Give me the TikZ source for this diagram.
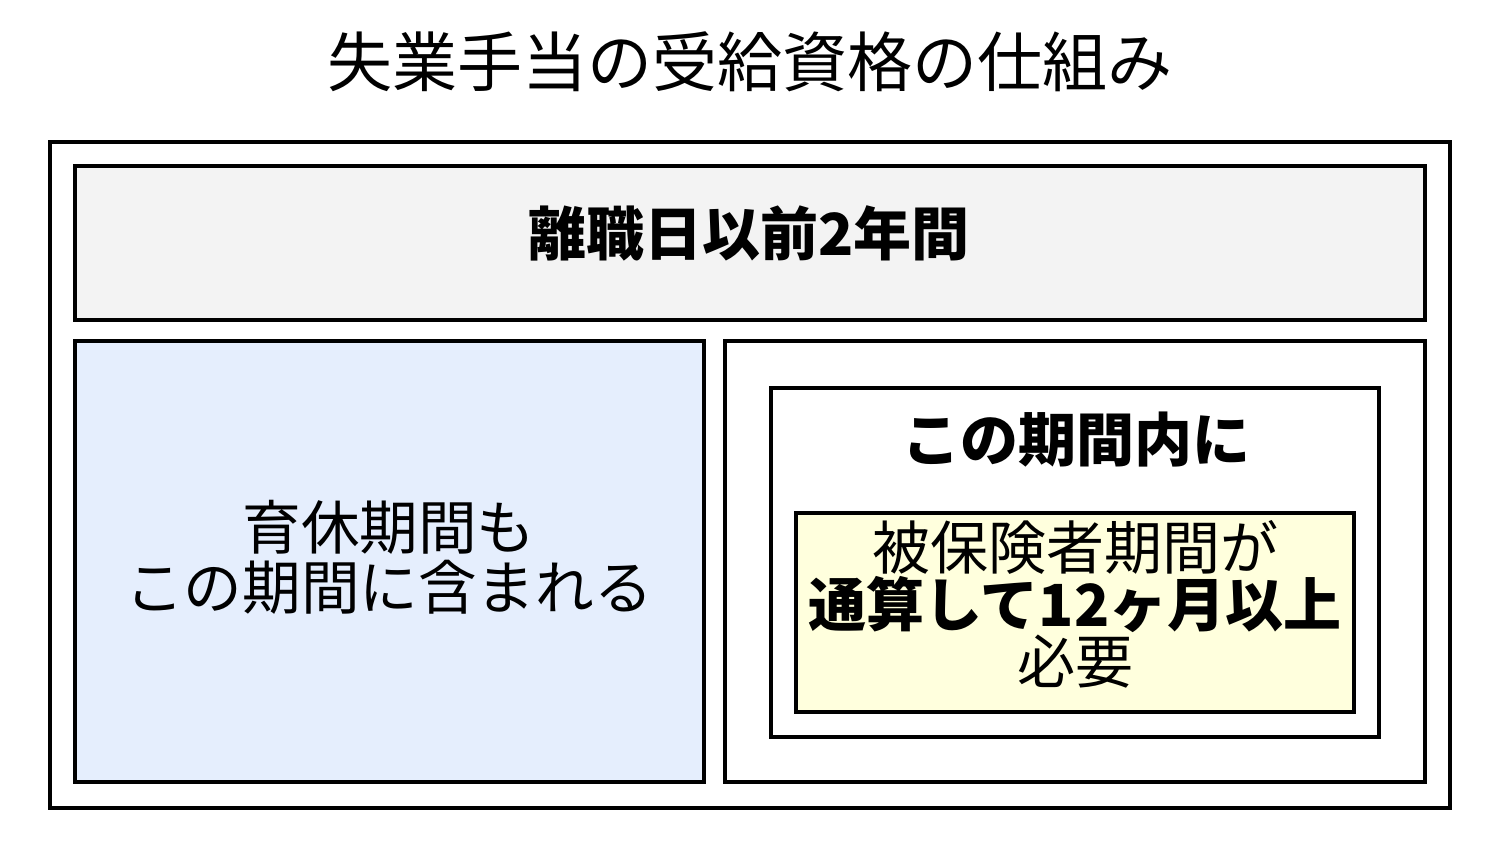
\documentclass[tikz,border=0pt]{standalone}
\usepackage{fontspec}
\setmainfont{Noto Sans CJK JP}
\definecolor{graybg}{HTML}{F3F3F3}
\definecolor{bluebg}{HTML}{E5EEFD}
\definecolor{yellowbg}{HTML}{FFFFDD}
\tikzset{
  frame/.style={draw=black, line width=2pt},
  lbl/.style={inner sep=0pt, align=center, text=black},
}
\begin{document}
\begin{tikzpicture}[x=0.5pt,y=-0.5pt]
\useasboundingbox (0,0) rectangle (1500,842);
\node[lbl, font=\fontsize{32.5}{36}\selectfont] (title) at (750,62) {失業手当の受給資格の仕組み};
\draw[frame] (50,142) rectangle (1450,808);
\draw[frame, fill=graybg] (75,166) rectangle (1425,320);
\draw[frame, fill=bluebg] (75,341) rectangle (704,782);
\draw[frame, fill=white] (725,341) rectangle (1425,782);
\draw[frame, fill=white] (771,388) rectangle (1379,737);
\draw[frame, fill=yellowbg] (796,513) rectangle (1354,712);
\node[lbl, font=\fontsize{29}{30}\selectfont\bfseries] (period) at (749,233) {離職日以前2年間};
\node[lbl, font=\fontsize{29.3}{30}\selectfont] (leave) at (389,557) {育休期間も\\この期間に含まれる};
\node[lbl, font=\fontsize{29}{30}\selectfont\bfseries] (within) at (1076,440) {この期間内に};
\node[lbl, font=\fontsize{29}{28.5}\selectfont] (req) at (1075,604) {被保険者期間が\\\textbf{通算して12ヶ月以上}\\必要};
\end{tikzpicture}
\end{document}
